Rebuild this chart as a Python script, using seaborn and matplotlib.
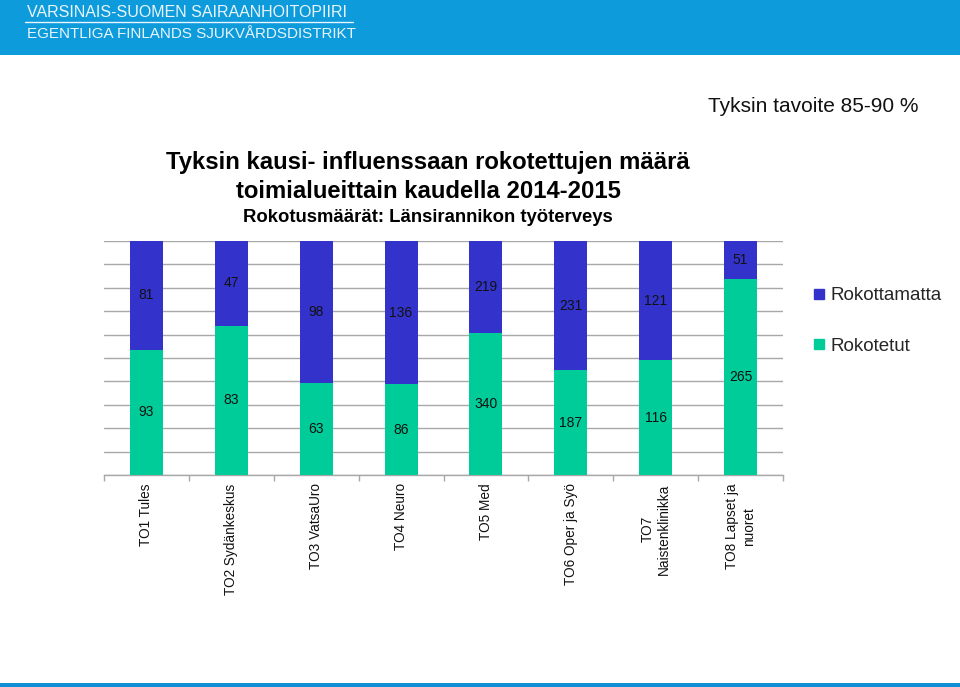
import matplotlib
matplotlib.use("Agg")
import matplotlib.pyplot as plt
from matplotlib.patches import Rectangle
from matplotlib.lines import Line2D
import seaborn as sns
import pandas as pd
import numpy as np

categories = ["TO1 Tules", "TO2 Sydänkeskus", "TO3 VatsaUro", "TO4 Neuro", "TO5 Med",
              "TO6 Oper ja Syö", "TO7\nNaistenklinikka", "TO8 Lapset ja\nnuoret"]
rokotetut = [93, 83, 63, 86, 340, 187, 116, 265]
rokottamatta = [81, 47, 98, 136, 219, 231, 121, 51]
series_names = ["Rokottamatta", "Rokotetut"]

BLUE = "#3333CC"
GREEN = "#00CC99"
HEADER = "#0E9BDC"

sns.set_theme(style="white")
plt.rcParams["font.family"] = ["Liberation Sans", "DejaVu Sans"]

df = pd.DataFrame({"cat": categories, "g": rokotetut, "b": rokottamatta})
df["total"] = df["g"] + df["b"]
df["g_frac"] = df["g"] / df["total"]
df["all"] = df["total"] / df["total"]

W, H = 960, 687
fig = plt.figure(figsize=(W / 100, H / 100), dpi=100)
fig.patch.set_facecolor("white")

# header band and bottom line
fig.patches.append(Rectangle((0, 1 - 55 / H), 1, 55 / H, transform=fig.transFigure,
                             facecolor=HEADER, edgecolor="none", zorder=0))
fig.patches.append(Rectangle((0, 0), 1, 4 / H, transform=fig.transFigure,
                             facecolor="#0E8FD4", edgecolor="none", zorder=0))
fig.text(27 / W, 1 - 12.5 / H, "VARSINAIS-SUOMEN SAIRAANHOITOPIIRI", color="#E8F5FC",
         fontsize=11.5, va="center", ha="left")
fig.lines.append(Line2D([25 / W, 353 / W], [1 - 22 / H, 1 - 22 / H], transform=fig.transFigure,
                        color="#E8F5FC", lw=1))
fig.text(27 / W, 1 - 33.5 / H, "EGENTLIGA FINLANDS SJUKVÅRDSDISTRIKT", color="#E8F5FC",
         fontsize=10.9, va="center", ha="left")

fig.text(918 / W, 1 - 106 / H, "Tyksin tavoite 85-90 %", fontsize=15, ha="right", va="center",
         color="#111111")

fig.text(428 / W, 1 - 163 / H, "Tyksin kausi- influenssaan rokotettujen määrä", fontsize=17.2,
         fontweight="bold", ha="center", va="center", color="#000000")
fig.text(428 / W, 1 - 192 / H, "toimialueittain kaudella 2014-2015", fontsize=17.2,
         fontweight="bold", ha="center", va="center", color="#000000")
fig.text(428 / W, 1 - 217 / H, "Rokotusmäärät: Länsirannikon työterveys", fontsize=13.3,
         fontweight="bold", ha="center", va="center", color="#000000")

ax = fig.add_axes([104 / W, (H - 475) / H, (783 - 104) / W, (475 - 241) / H])
ax.set_facecolor("white")

sns.barplot(data=df, x="cat", y="all", color=BLUE, width=0.39, saturation=1, ax=ax,
            zorder=3, errorbar=None, linewidth=0, edgecolor="none")
sns.barplot(data=df, x="cat", y="g_frac", color=GREEN, width=0.39, saturation=1, ax=ax,
            zorder=4, errorbar=None, linewidth=0, edgecolor="none")

for i, row in df.iterrows():
    ax.text(i, row["g_frac"] / 2, f"{row['g']}", ha="center", va="center", fontsize=10,
            color="#111111", zorder=5)
    ax.text(i, row["g_frac"] + (1 - row["g_frac"]) / 2, f"{row['b']}", ha="center",
            va="center", fontsize=10, color="#111111", zorder=5)

ax.set_ylim(0, 1)
ax.set_xlim(-0.5, len(categories) - 0.5)
ax.set_yticks(np.linspace(0, 1, 11))
ax.set_yticklabels([])
ax.tick_params(axis="y", length=0)
ax.grid(axis="y", color="#A8A8A8", lw=1, zorder=0)
ax.set_axisbelow(True)
ax.set_xlabel("")
ax.set_ylabel("")
for s in ["left", "right", "top"]:
    ax.spines[s].set_visible(False)
ax.spines["bottom"].set_color("#A8A8A8")
ax.spines["bottom"].set_linewidth(1)

ax.set_xticks(range(len(categories)))
ax.set_xticklabels(categories, rotation=90, fontsize=9.8, va="top", ha="center",
                   multialignment="center", color="#111111")
ax.tick_params(axis="x", which="major", length=0, pad=6)
ax.set_xticks(np.arange(len(categories) + 1) - 0.5, minor=True)
ax.tick_params(axis="x", which="minor", length=4, color="#A8A8A8", width=1, direction="out",
               bottom=True)

handles = [Line2D([], [], marker="s", linestyle="none", color=BLUE, markersize=7),
           Line2D([], [], marker="s", linestyle="none", color=GREEN, markersize=7)]
fig.legend(handles, series_names, loc="center left", bbox_to_anchor=(804 / W, 1 - 321 / H),
           frameon=False, fontsize=13.5, labelspacing=1.8, handletextpad=0.2, handlelength=0.8,
           borderaxespad=0)

fig.savefig("out.png", dpi=100)
